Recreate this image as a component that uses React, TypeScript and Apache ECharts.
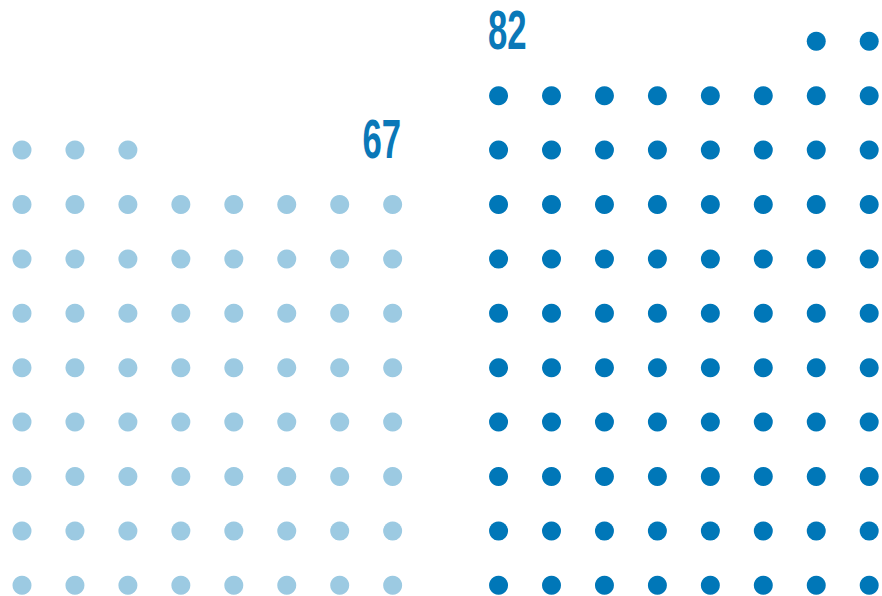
import React, { useEffect, useRef } from "react";
import * as echarts from "echarts";

// ---- data ----
const categories = ["Group A", "Group B"];
const values = [67, 82];
const valueLabels = ["67", "82"];
const dotsPerRow = 8;
const startColumn = [0, 9];
const partialRowAlign = ["left", "right"];

// ---- styles ----
const dotColors = ["#9ccae2", "#0077b8"];
const labelColor = "#0a78b8";

function buildDots(count: number, start: number, align: string): number[][] {
  const pts: number[][] = [];
  const full = Math.floor(count / dotsPerRow);
  const rem = count % dotsPerRow;
  for (let r = 0; r < full; r++) {
    for (let c = 0; c < dotsPerRow; c++) pts.push([start + c, r]);
  }
  if (rem > 0) {
    for (let k = 0; k < rem; k++) {
      const c = align === "left" ? k : dotsPerRow - rem + k;
      pts.push([start + c, full]);
    }
  }
  return pts;
}

export default function App() {
  const ref = useRef<HTMLDivElement>(null);
  useEffect(() => {
    if (!ref.current) return;
    const chart = echarts.init(ref.current, undefined, { renderer: "svg" });
    const series = categories.map((name, i) => ({
      name,
      type: "scatter",
      symbol: "circle",
      symbolSize: 19,
      itemStyle: { color: dotColors[i], opacity: 1 },
      data: buildDots(values[i], startColumn[i], partialRowAlign[i]),
      silent: true,
    }));
    chart.setOption({
      animation: false,
      grid: { left: 22, right: 12.8, top: 41.3, bottom: 10.7 },
      xAxis: { type: "value", min: 0, max: 16, show: false },
      yAxis: { type: "value", min: 0, max: 10, show: false },
      series,
    });

    // label anchors: the top (partial) row of each group
    const graphics = categories.map((_, i) => {
      const full = Math.floor(values[i] / dotsPerRow);
      const rem = values[i] % dotsPerRow;
      const topRow = rem > 0 ? full : full - 1;
      const leftAligned = partialRowAlign[i] === "right";
      const col = leftAligned ? startColumn[i] : startColumn[i] + dotsPerRow - 1;
      const p = chart.convertToPixel({ gridIndex: 0 }, [col, topRow]) as number[];
      return {
        type: "text",
        x: p[0] + (leftAligned ? -10.5 : 8.5),
        y: p[1] - 11.5,
        scaleX: 0.62,
        style: {
          text: valueLabels[i],
          fill: labelColor,
          font: 'bold 56px "Liberation Sans Narrow", "Liberation Sans", sans-serif',
          align: leftAligned ? "left" : "right",
          verticalAlign: "middle",
        },
      };
    });
    chart.setOption({ graphic: graphics });
    return () => chart.dispose();
  }, []);
  return (
    <div
      ref={ref}
      style={{ position: "absolute", left: 0, top: 0, width: 882, height: 596 }}
    />
  );
}
